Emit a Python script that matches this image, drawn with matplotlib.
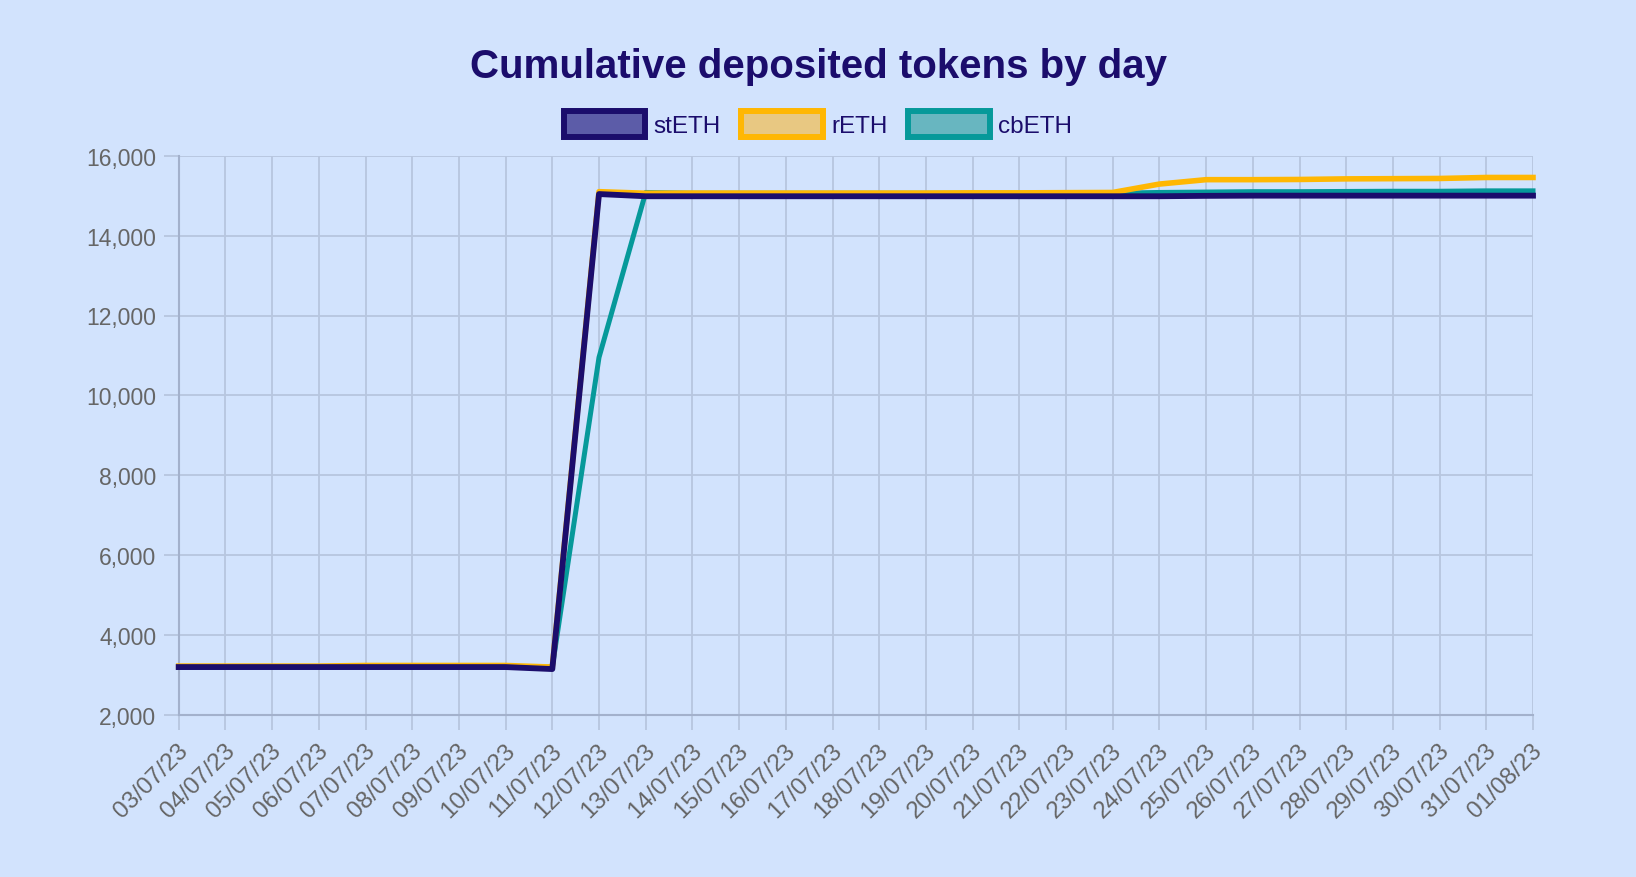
import matplotlib.pyplot as plt
from matplotlib.patches import Patch
from matplotlib.ticker import FuncFormatter
import matplotlib.transforms as mtransforms

days = ['03/07/23', '04/07/23', '05/07/23', '06/07/23', '07/07/23', '08/07/23',
        '09/07/23', '10/07/23', '11/07/23', '12/07/23', '13/07/23', '14/07/23',
        '15/07/23', '16/07/23', '17/07/23', '18/07/23', '19/07/23', '20/07/23',
        '21/07/23', '22/07/23', '23/07/23', '24/07/23', '25/07/23', '26/07/23',
        '27/07/23', '28/07/23', '29/07/23', '30/07/23', '31/07/23', '01/08/23']

steth = [3200, 3200, 3200, 3200, 3200, 3200, 3200, 3200, 3150, 15040,
         14985, 14985, 14985, 14985, 14985, 14985, 14985, 14985, 14985, 14985,
         14985, 14985, 14995, 15000, 15000, 15000, 15000, 15000, 15000, 15000]
reth = [3225, 3225, 3225, 3225, 3240, 3240, 3240, 3240, 3200, 15100,
        15060, 15065, 15065, 15065, 15065, 15065, 15065, 15070, 15070, 15075,
        15080, 15290, 15400, 15400, 15405, 15420, 15425, 15430, 15455, 15455]
cbeth = [3200, 3200, 3200, 3200, 3200, 3200, 3200, 3200, 3200, 10950,
         15080, 15060, 15060, 15060, 15060, 15060, 15060, 15060, 15060, 15060,
         15060, 15080, 15090, 15100, 15100, 15105, 15110, 15110, 15120, 15120]

BG = '#d2e3fd'
NAVY = '#1b0d6c'
GRID = '#b7c6df'
AXIS = '#a3b1cc'

plt.rcParams['font.family'] = ['Liberation Sans', 'DejaVu Sans']

fig = plt.figure(figsize=(16.36, 8.78), dpi=100, facecolor=BG)
ax = fig.add_axes([178.7 / 1636, 1 - 716 / 878, (1533 - 178.7) / 1636, (716 - 156.7) / 878])
ax.set_facecolor(BG)

x = list(range(len(days)))
series = [
    ('stETH', steth, NAVY, '#5c5ca8', 4.2, 5),
    ('rETH', reth, '#ffb703', '#e8c882', 4.0, 4),
    ('cbETH', cbeth, '#06999a', '#68b6c0', 3.6, 3),
]
handles = []
for name, vals, col, fill, lw, z in series:
    ax.plot(x, vals, color=col, lw=lw, zorder=z, clip_on=False,
            solid_joinstyle='round')
    handles.append(Patch(facecolor=fill, edgecolor=col, linewidth=4.3, label=name))

ax.set_xlim(0, len(days) - 1)
ax.set_ylim(2000, 16000)
ax.set_yticks(range(2000, 16001, 2000))
ax.yaxis.set_major_formatter(FuncFormatter(lambda v, p: f'{int(v):,}'))
ax.set_xticks(x)
ax.set_xticklabels(days, rotation=45, ha='right', va='center', rotation_mode='anchor')

ax.grid(True, color=GRID, lw=1.3, zorder=0)
ax.set_axisbelow(True)
for s in ['top', 'right']:
    ax.spines[s].set_visible(False)
for s in ['left', 'bottom']:
    ax.spines[s].set_color(AXIS)
    ax.spines[s].set_linewidth(1.5)
ax.tick_params(axis='both', length=11, width=1.3, color=GRID, labelcolor='#666666')
ax.tick_params(axis='y', pad=5, labelsize=16.5)
ax.tick_params(axis='x', pad=12, labelsize=17.5)
# nudge rotated date labels so their ends sit under the ticks
off = mtransforms.ScaledTranslation(6 / 100, 0, fig.dpi_scale_trans)
for lab in ax.get_xticklabels():
    lab.set_transform(lab.get_transform() + off)

fig.text(0.5, 1 - 67 / 878, 'Cumulative deposited tokens by day', ha='center', va='center',
         fontsize=29, fontweight='bold', color=NAVY)

fig.legend(handles=handles, loc='center', bbox_to_anchor=(0.5, 1 - 125 / 878), ncol=3,
           frameon=False, fontsize=17.5, labelcolor=NAVY, handlelength=3.35,
           handleheight=1.25, handletextpad=0.35, columnspacing=0.85)

fig.savefig('out.png', dpi=100, facecolor=BG)
